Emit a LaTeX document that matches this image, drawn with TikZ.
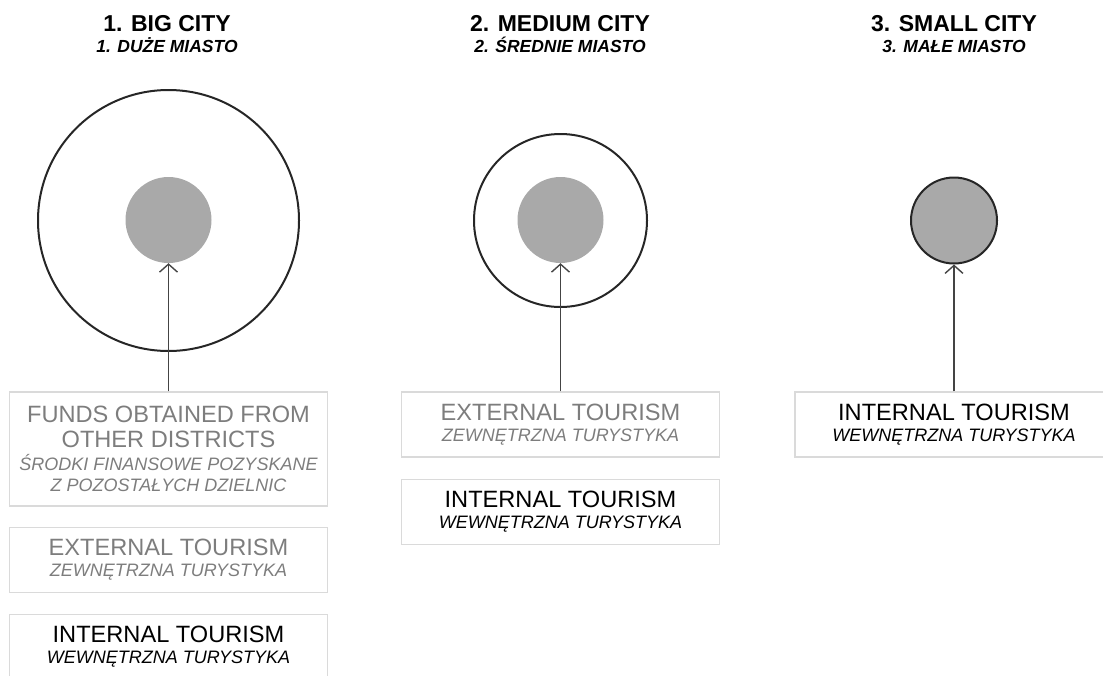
\documentclass[tikz,border=0pt]{standalone}
\usepackage{fontspec}
\setmainfont{Liberation Sans}
\usetikzlibrary{arrows.meta}

\definecolor{coregray}{HTML}{A9A9A9}
\definecolor{boxgray}{HTML}{DADADA}
\definecolor{textgray}{HTML}{7D7D7D}
\definecolor{arrowgray}{HTML}{444444}

\newcommand{\entext}[1]{{\fontsize{23.6}{25}\selectfont #1}}
\newcommand{\pltext}[1]{{\itshape #1}}

\begin{document}
\begin{tikzpicture}[x=1pt,y=-1pt,
  ring/.style={circle,draw=black!85,line width=2pt,inner sep=0pt},
  core/.style={circle,fill=coregray,inner sep=0pt,minimum size=86pt},
  title/.style={anchor=base,font=\fontsize{23}{25}\selectfont\bfseries},
  subtitle/.style={anchor=base,font=\fontsize{17.5}{20}\selectfont\bfseries\itshape},
  src/.style={draw=boxgray,line width=1.5pt,minimum width=318pt,minimum height=65pt,
    inner sep=0pt,align=center,font=\fontsize{18}{21}\selectfont},
  faint/.style={text=textgray},
  arr/.style={-{Straight Barb[length=8pt,width=18pt]},draw=arrowgray,line width=1.4pt}]
\useasboundingbox (0,0) rectangle (1103,675);
\clip (0,0) rectangle (1103,675);
% Titles
\node[title] (bigtitle) at (167,31) {1. BIG CITY};
\node[subtitle] (bigsub) at (167,52) {1. DUŻE MIASTO};
\node[title] (medtitle) at (560,31) {2. MEDIUM CITY};
\node[subtitle] (medsub) at (560,52) {2. ŚREDNIE MIASTO};
\node[title] (smalltitle) at (954,31) {3. SMALL CITY};
\node[subtitle] (smallsub) at (954,52) {3. MAŁE MIASTO};
% Draw the cities
\node[ring,minimum size=261pt] (bigring) at (168.5,220.5) {};
\node[core] (bigcore) at (168.5,220) {};
\node[ring,minimum size=173pt] (medring) at (560.5,220.5) {};
\node[core] (medcore) at (560.5,220) {};
\node[core,draw=black!85,line width=2pt] (smallcore) at (954,220.5) {};
% Big city sources
\node[src,faint,minimum height=114pt] (bigfunds) at (168.5,449)
  {\entext{FUNDS OBTAINED FROM}\\[4pt] \entext{OTHER DISTRICTS}\\[2pt]
   \pltext{ŚRODKI FINANSOWE POZYSKANE}\\ \pltext{Z POZOSTAŁYCH DZIELNIC}};
\node[src,faint] (bigext) at (168.5,560) {\entext{EXTERNAL TOURISM}\\ \pltext{ZEWNĘTRZNA TURYSTYKA}};
\node[src] (bigint) at (168.5,647) {\entext{INTERNAL TOURISM}\\ \pltext{WEWNĘTRZNA TURYSTYKA}};
% Medium city sources
\node[src,faint] (medext) at (560.5,424.5) {\entext{EXTERNAL TOURISM}\\ \pltext{ZEWNĘTRZNA TURYSTYKA}};
\node[src] (medint) at (560.5,512) {\entext{INTERNAL TOURISM}\\ \pltext{WEWNĘTRZNA TURYSTYKA}};
% Small city source
\node[src] (smallint) at (954,424.5) {\entext{INTERNAL TOURISM}\\ \pltext{WEWNĘTRZNA TURYSTYKA}};
% Arrows into the core
\draw[arr] (bigfunds) -- (bigcore);
\draw[arr] (medext) -- (medcore);
\draw[arr] (smallint) -- (smallcore);
\end{tikzpicture}
\end{document}
